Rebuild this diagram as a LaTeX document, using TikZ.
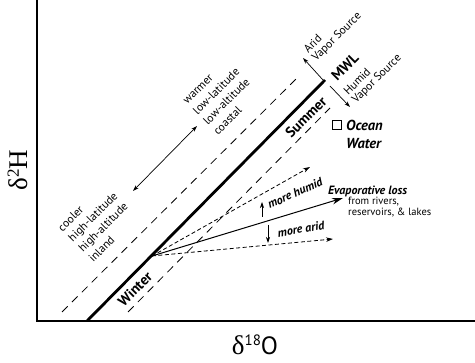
\documentclass[tikz,border=0pt]{standalone}
\usepackage{fontspec}
\setmainfont{PT Sans}
\newfontfamily\serifax{Liberation Serif}
\usetikzlibrary{arrows.meta}
\begin{document}
\begin{tikzpicture}[x=1pt,y=-1pt,
  axis/.style={line width=1.4pt, line join=miter},
  mwl/.style={line width=2.8pt},
  para/.style={line width=0.8pt, dash pattern=on 8pt off 6pt},
  evap/.style={line width=0.8pt, dash pattern=on 4pt off 2.5pt, -{Stealth[length=7pt,width=4.5pt]}},
  thinarr/.style={line width=0.7pt, -{Stealth[length=6pt,width=4pt]}},
  lab/.style={font=\fontsize{11.5}{14.5}\selectfont, align=left, rotate=45, inner sep=0pt},
  vap/.style={font=\fontsize{11.5}{11.5}\selectfont, align=left, rotate=45, inner sep=0pt},
  bold/.style={font=\fontsize{14.5}{15}\selectfont\bfseries, rotate=45, inner sep=0pt},
  bi/.style={font=\fontsize{12}{13}\selectfont\bfseries\itshape, inner sep=0pt},
  small/.style={font=\fontsize{10.5}{11}\selectfont, align=left, inner sep=0pt}
]
\useasboundingbox (0,0) rectangle (475,363);
% axes
\coordinate (Ytop) at (37,0);
\coordinate (O) at (37,321);
\coordinate (Xend) at (475,321);
\draw[axis] (Ytop) -- (O) -- (Xend);
% MWL and parallels
\coordinate (M0) at (87,321);
\coordinate (M1) at (325,80);
\draw[mwl] (M0) -- (M1);
\coordinate (U0) at (62,312);
\coordinate (U1) at (298,77);
\draw[para] (U0) -- (U1);
\coordinate (L0) at (128,312);
\coordinate (L1) at (330,108);
\draw[para] (L0) -- (L1);
% evaporation lines
\coordinate (W) at (152,256);
\coordinate (E1) at (310,167);
\coordinate (E2) at (343,198);
\coordinate (E3) at (333,239);
\draw[evap] (W) -- (E1);
\draw[evap] (W) -- (E3);
\draw[line width=1pt, -{Stealth[length=11pt,width=6.5pt]}] (W) -- (E2);
% small arrows
\coordinate (H0) at (262,217); \coordinate (H1) at (262,202);
\draw[thinarr] (H0) -- (H1);
\coordinate (A0) at (268,225); \coordinate (A1) at (268,243);
\draw[thinarr] (A0) -- (A1);
\coordinate (D0) at (133,191); \coordinate (D1) at (197,126);
\draw[line width=0.7pt, {Stealth[length=6pt,width=4pt]}-{Stealth[length=6pt,width=4pt]}] (D0) -- (D1);
\coordinate (AR0) at (323,80); \coordinate (AR1) at (303,58);
\draw[thinarr] (AR0) -- (AR1);
\coordinate (HU0) at (330,86); \coordinate (HU1) at (350,107);
\draw[thinarr] (HU0) -- (HU1);
% labels
\node[lab] (warm) at (222,97) {warmer\\low-latitude\\low-altitude\\coastal};
\node[lab] (cool) at (98,222) {cooler\\high-latitude\\high-altitude\\inland};
\node[vap] (arid) at (333,33) {Arid\\Vapor Source};
\node[vap] (humid) at (373,75) {Humid\\Vapor Source};
\node[bold] (mwltxt) at (345,67) {MWL};
\node[bold] (summer) at (306,117) {Summer};
\node[bold] (winter) at (135,289) {Winter};
\node[draw, line width=0.6pt, minimum size=9pt, inner sep=0pt] (sq) at (337,125) {};
\node[font=\fontsize{14.5}{18}\selectfont\bfseries\itshape, align=left, anchor=west, inner sep=0pt] (ocean) at (346,134) {Ocean\\Water};
\node[bi, rotate=24] (mh) at (295,193) {more humid};
\node[bi, rotate=10] (ma) at (301,229) {more arid};
\node[bi, anchor=west] (ev) at (328,191) {Evaporative loss};
\node[small, anchor=north west] (riv) at (348,197) {from rivers,\\reservoirs, \& lakes};
% axis labels
\node[rotate=90, inner sep=0pt] (ylab) at (18,170) {{\serifax\fontsize{27}{27}\selectfont δ}\raisebox{9pt}{\serifax\fontsize{17}{17}\selectfont 2}{\serifax\fontsize{27}{27}\selectfont H}};
\node[inner sep=0pt] (xlab) at (255,345) {{\serifax\fontsize{27}{27}\selectfont δ}\raisebox{9pt}{\fontsize{15}{15}\selectfont 18}{\fontsize{25}{25}\selectfont O}};
\end{tikzpicture}
\end{document}
